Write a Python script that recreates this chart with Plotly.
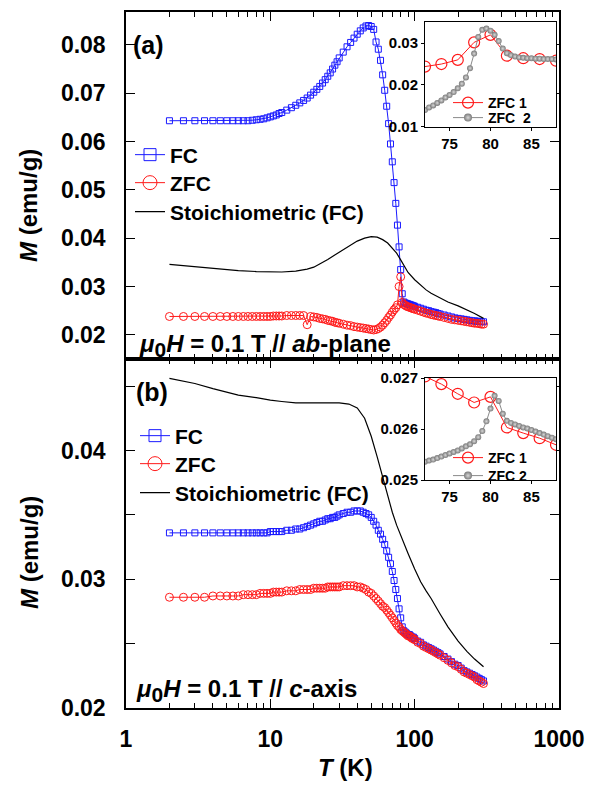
import plotly.graph_objects as go

# ---------------- data ----------------
T_main = [2, 2.5, 3, 3.5, 4, 4.5, 5, 5.5, 6, 6.5, 7, 7.5, 8, 8.5, 9, 9.5, 10, 10.5, 11, 11.5, 12,
          13, 14, 15, 16, 17, 18, 19, 20, 21, 22, 23, 24, 25, 26, 27, 28, 29, 30,
          32, 34, 36, 38, 40, 42, 44, 46, 48, 50, 52, 54, 56, 58, 60, 62, 64, 66, 68, 70,
          72, 74, 76, 78, 80, 82, 84, 86, 88, 90, 92, 94, 96, 98, 100,
          105, 110, 115, 120, 125, 130, 135, 140, 145, 150,
          160, 170, 180, 190, 200, 210, 220, 230, 240, 250, 260, 270, 280, 290, 300]

FC_a = [0.0643, 0.0643, 0.0643, 0.0643, 0.0643, 0.0643, 0.0643, 0.0643, 0.0643, 0.0643, 0.0643,
        0.0644, 0.0645, 0.0646, 0.0647, 0.0649, 0.0651, 0.0653, 0.0655, 0.0658, 0.0660,
        0.0665, 0.0670, 0.0675, 0.0680, 0.0685, 0.0690, 0.0696, 0.0702, 0.0708, 0.0714, 0.0721, 0.0728,
        0.0735, 0.0742, 0.0750, 0.0758, 0.0765, 0.0773,
        0.0785, 0.0796, 0.0805, 0.0814, 0.0822, 0.0829, 0.0835, 0.0839, 0.0840, 0.0838, 0.0832, 0.0806,
        0.0791, 0.0768, 0.0738, 0.0706, 0.0673, 0.0637, 0.0595, 0.0558, 0.0515, 0.0472, 0.0427, 0.0382,
        0.0335, 0.0285, 0.0268, 0.0266, 0.0265, 0.0264, 0.0263, 0.0262, 0.0261, 0.0260, 0.0259,
        0.0257, 0.0255, 0.0253, 0.0251, 0.0250, 0.0248, 0.0247, 0.0246, 0.0244, 0.0243,
        0.0241, 0.0239, 0.0237, 0.0235, 0.0234, 0.0233, 0.0232, 0.0231, 0.0230, 0.0229, 0.0229, 0.0228,
        0.0228, 0.0227, 0.0227]

ZFC_a = [0.0238, 0.0238, 0.0238, 0.0238, 0.0238, 0.0238, 0.0238, 0.0238, 0.0238, 0.0238, 0.0238,
         0.0238, 0.0238, 0.0238, 0.0238, 0.0238, 0.0238, 0.0239, 0.0239, 0.0239, 0.0239,
         0.0240, 0.0240, 0.0240, 0.0240, 0.0240, 0.0221, 0.0238, 0.0237, 0.0236, 0.0234, 0.0233, 0.0232,
         0.0230, 0.0229, 0.0228, 0.0226, 0.0225, 0.0224,
         0.0222, 0.0220, 0.0219, 0.0217, 0.0216, 0.0215, 0.0214, 0.0213, 0.0212, 0.0211, 0.0210, 0.0211,
         0.0213, 0.0216, 0.0220, 0.0225, 0.0230, 0.0236, 0.0241, 0.0247, 0.0252, 0.0256, 0.0262, 0.0300,
         0.0320, 0.0267, 0.0263, 0.0261, 0.0259, 0.0258, 0.0257, 0.0256, 0.0255, 0.0254, 0.0253,
         0.0251, 0.0249, 0.0247, 0.0245, 0.0244, 0.0242, 0.0241, 0.0240, 0.0239, 0.0238,
         0.0236, 0.0234, 0.0232, 0.0231, 0.0230, 0.0229, 0.0228, 0.0227, 0.0226, 0.0225, 0.0224, 0.0224,
         0.0223, 0.0222, 0.0222]

FC_b = [0.0336, 0.0336, 0.0336, 0.0336, 0.0336, 0.0336, 0.0336, 0.0336, 0.0336, 0.0336, 0.0336,
        0.0336, 0.0336, 0.0336, 0.0336, 0.0336, 0.0337, 0.0337, 0.0337, 0.0337, 0.0337,
        0.0338, 0.0338, 0.0339, 0.0339, 0.0340, 0.0341, 0.0342, 0.0343, 0.0344, 0.0345, 0.0345, 0.0346,
        0.0347, 0.0347, 0.0348, 0.0348, 0.0349, 0.0350,
        0.0351, 0.0352, 0.0352, 0.0353, 0.0353, 0.0353, 0.0352, 0.0351, 0.0350, 0.0348, 0.0345, 0.0342,
        0.0338, 0.0335, 0.0331, 0.0327, 0.0322, 0.0317, 0.0312, 0.0306, 0.0299, 0.0292, 0.0285, 0.0277,
        0.0270, 0.0263, 0.0260, 0.0259, 0.0258, 0.0257, 0.0257, 0.0256, 0.0255, 0.0255, 0.0254,
        0.0252, 0.0251, 0.0249, 0.0248, 0.0247, 0.0246, 0.0245, 0.0244, 0.0243, 0.0242,
        0.0240, 0.0238, 0.0236, 0.0234, 0.0233, 0.0231, 0.0229, 0.0228, 0.0227, 0.0226, 0.0225, 0.0224,
        0.0223, 0.0222, 0.0221]

ZFC_b = [0.0286, 0.0286, 0.0286, 0.0286, 0.0287, 0.0287, 0.0287, 0.0287, 0.0287, 0.0288, 0.0288,
         0.0288, 0.0288, 0.0289, 0.0289, 0.0289, 0.0289, 0.0290, 0.0290, 0.0290, 0.0290,
         0.0291, 0.0291, 0.0291, 0.0292, 0.0292, 0.0292, 0.0292, 0.0293, 0.0293, 0.0293, 0.0293, 0.0293,
         0.0294, 0.0294, 0.0294, 0.0294, 0.0294, 0.0294,
         0.0295, 0.0295, 0.0295, 0.0295, 0.0294, 0.0294, 0.0293, 0.0292, 0.0290, 0.0289, 0.0287, 0.0285,
         0.0283, 0.0281, 0.0279, 0.0278, 0.0276, 0.0274, 0.0272, 0.0270, 0.0268, 0.0266, 0.0264, 0.0263,
         0.0261, 0.0260, 0.0259, 0.0258, 0.0257, 0.0256, 0.0256, 0.0255, 0.0254, 0.0254, 0.0253,
         0.0251, 0.0250, 0.0248, 0.0247, 0.0246, 0.0245, 0.0244, 0.0243, 0.0242, 0.0241,
         0.0239, 0.0237, 0.0235, 0.0233, 0.0232, 0.0230, 0.0228, 0.0227, 0.0226, 0.0225, 0.0224, 0.0222,
         0.0221, 0.0220, 0.0219]

T_stoich = [2, 3, 4, 5, 6, 8, 10, 12, 15, 18, 20, 25, 30, 35, 40, 45, 50, 55, 60, 65, 70, 75, 80, 85,
            90, 100, 110, 120, 130, 150, 170, 200, 230, 260, 300]
Stoich_a = [0.0346, 0.0341, 0.0338, 0.0335, 0.0333, 0.0331, 0.0330, 0.0330, 0.0332, 0.0336, 0.0340,
            0.0356, 0.0371, 0.0383, 0.0394, 0.0400, 0.0403, 0.0402, 0.0397, 0.0390, 0.0380, 0.0369,
            0.0355, 0.0341, 0.0329, 0.0314, 0.0302, 0.0293, 0.0286, 0.0276, 0.0268, 0.0260, 0.0252,
            0.0244, 0.0234]
Stoich_b = [0.0456, 0.0452, 0.0448, 0.0445, 0.0443, 0.0441, 0.0439, 0.0438, 0.0437, 0.0437, 0.0437,
            0.0437, 0.0437, 0.0436, 0.0433, 0.0425, 0.0411, 0.0395, 0.0379, 0.0365, 0.0352, 0.0342,
            0.0334, 0.0327, 0.0320, 0.0308, 0.0298, 0.0291, 0.0285, 0.0273, 0.0263, 0.0252, 0.0244,
            0.0238, 0.0232]

# inset data
T_zfc1 = [72, 74, 76, 78, 80, 82, 84, 86, 88]
Ma_zfc1 = [0.0244, 0.0250, 0.0260, 0.0302, 0.0320, 0.0270, 0.0264, 0.0262, 0.0258]
Mb_zfc1 = [0.02703, 0.02688, 0.02669, 0.02652, 0.02663, 0.02603, 0.02592, 0.02582, 0.02569]

T_zfc2 = [72, 72.5, 73, 73.5, 74, 74.5, 75, 75.5, 76, 76.5, 77, 77.5, 78, 78.5, 79, 79.5, 80, 80.5,
          81, 81.5, 82, 82.5, 83, 83.5, 84, 84.5, 85, 85.5, 86, 86.5, 87, 87.5, 88]
Ma_zfc2 = [0.0140, 0.0146, 0.0151, 0.0157, 0.0163, 0.0170, 0.0176, 0.0183, 0.0192, 0.0203, 0.0218,
           0.0240, 0.0275, 0.0315, 0.0332, 0.0335, 0.0330, 0.0320, 0.0305, 0.0287, 0.0276, 0.0271,
           0.0268, 0.0266, 0.0265, 0.0264, 0.0264, 0.0263, 0.0263, 0.0262, 0.0262, 0.0262, 0.0261]
Mb_zfc2 = [0.02536, 0.02538, 0.02540, 0.02543, 0.02546, 0.02549, 0.02552, 0.02555, 0.02558, 0.02562,
           0.02566, 0.02570, 0.02576, 0.02584, 0.02596, 0.02615, 0.02640, 0.02665, 0.02655, 0.02630,
           0.02616, 0.02612, 0.02609, 0.02606, 0.02603, 0.02601, 0.02598, 0.02595, 0.02592, 0.02589,
           0.02586, 0.02583, 0.02580]

main_xticks = [1, 10, 100, 1000]
main_xlabels = ["1", "10", "100", "1000"]
ya_ticks = [0.02, 0.03, 0.04, 0.05, 0.06, 0.07, 0.08]
ya_labels = ["0.02", "0.03", "0.04", "0.05", "0.06", "0.07", "0.08"]
yb_ticks = [0.02, 0.03, 0.04]
yb_labels = ["0.02", "0.03", "0.04"]
inset_xticks = [75, 80, 85]
inset_a_yticks = [0.01, 0.02, 0.03]
inset_a_ylabels = ["0.01", "0.02", "0.03"]
inset_b_yticks = [0.025, 0.026, 0.027]
inset_b_ylabels = ["0.025", "0.026", "0.027"]

# ---------------- styling ----------------
W, H = 596, 785
FONT = "Liberation Sans"
BLUE = "#1a1aff"
RED = "#ff1a1a"
GRAY = "#8a8a8a"


def px(x):
    return x / W


def py(y):
    return 1 - y / H


fig = go.Figure()

FC_MARK = dict(symbol="square-open", color=BLUE, line=dict(width=1, color=BLUE))
ZFC_MARK = dict(symbol="circle-open", color=RED, line=dict(width=1, color=RED))
Z1_MARK = dict(symbol="circle-open", color=RED, line=dict(width=1.2, color=RED))
Z2_MARK = dict(symbol="circle", color="#7a7a7a", gradient=dict(type="radial", color="#d8d8d8"),
               line=dict(width=0))

legend_defs = {}


def legend_entry(leg, name, xa, ya, mode, line, marker, xpix, ypix, size):
    """Legend-only item (no data) placed in its own legend box."""
    fig.add_trace(go.Scatter(x=[None], y=[None], mode=mode, name=name, legend=leg,
                             xaxis=xa, yaxis=ya, line=line, marker=marker, showlegend=True,
                             hoverinfo="skip"))
    legend_defs[leg] = dict(x=px(xpix), y=py(ypix), xanchor="left", yanchor="middle",
                            bgcolor="rgba(0,0,0,0)", borderwidth=0, itemsizing="trace",
                            font=dict(family=FONT, size=size, color="black", weight="bold"))


def add_panel(xa, ya, fc, zfc, st):
    fig.add_trace(go.Scatter(x=T_main, y=fc, mode="lines+markers", showlegend=False,
                             xaxis=xa, yaxis=ya, line=dict(color=BLUE, width=1),
                             marker=dict(FC_MARK, size=6)))
    fig.add_trace(go.Scatter(x=T_main, y=zfc, mode="lines+markers", showlegend=False,
                             xaxis=xa, yaxis=ya, line=dict(color=RED, width=1),
                             marker=dict(ZFC_MARK, size=8)))
    fig.add_trace(go.Scatter(x=T_stoich, y=st, mode="lines", showlegend=False,
                             xaxis=xa, yaxis=ya, line=dict(color="black", width=1.2)))


def add_inset(xa, ya, m1, m2):
    fig.add_trace(go.Scatter(x=T_zfc1, y=m1, mode="lines+markers", showlegend=False,
                             xaxis=xa, yaxis=ya, line=dict(color=RED, width=1),
                             marker=dict(Z1_MARK, size=11)))
    fig.add_trace(go.Scatter(x=T_zfc2, y=m2, mode="lines+markers", showlegend=False,
                             xaxis=xa, yaxis=ya, line=dict(color=GRAY, width=1),
                             marker=dict(Z2_MARK, size=6)))


add_panel("x", "y", FC_a, ZFC_a, Stoich_a)
add_panel("x2", "y2", FC_b, ZFC_b, Stoich_b)
add_inset("x3", "y3", Ma_zfc1, Ma_zfc2)
add_inset("x4", "y4", Mb_zfc1, Mb_zfc2)

# legends (one box per entry so that the row spacing matches)
LA = 130
legend_entry("legend", "FC", "x", "y", "lines+markers", dict(color=BLUE, width=1),
             dict(FC_MARK, size=12), LA, 155, 21)
legend_entry("legend2", "ZFC", "x", "y", "lines+markers", dict(color=RED, width=1),
             dict(ZFC_MARK, size=14), LA, 183, 21)
legend_entry("legend3", "Stoichiometric (FC)", "x", "y", "lines", dict(color="black", width=1.2),
             None, LA, 212, 21)
LB = 135
legend_entry("legend4", "FC", "x2", "y2", "lines+markers", dict(color=BLUE, width=1),
             dict(FC_MARK, size=12), LB, 436, 21)
legend_entry("legend5", "ZFC", "x2", "y2", "lines+markers", dict(color=RED, width=1),
             dict(ZFC_MARK, size=14), LB, 464, 21)
legend_entry("legend6", "Stoichiometric (FC)", "x2", "y2", "lines", dict(color="black", width=1.2),
             None, LB, 493, 21)
LI = 448
legend_entry("legend7", "ZFC 1", "x3", "y3", "lines+markers", dict(color=RED, width=1),
             dict(Z1_MARK, size=11), LI, 103, 14)
legend_entry("legend8", "ZFC\u00a0\u00a02", "x3", "y3", "lines+markers", dict(color=GRAY, width=1),
             dict(Z2_MARK, size=8), LI, 118, 14)
legend_entry("legend9", "ZFC 1", "x4", "y4", "lines+markers", dict(color=RED, width=1),
             dict(Z1_MARK, size=11), LI, 458, 14)
legend_entry("legend10", "ZFC 2", "x4", "y4", "lines+markers", dict(color=GRAY, width=1),
             dict(Z2_MARK, size=8), LI, 476, 14)

XDOM = [px(126), px(559)]
tickfont = dict(family=FONT, size=23, color="black", weight="bold")
minor_x = [2, 3, 4, 5, 6, 7, 8, 9, 20, 30, 40, 50, 60, 70, 80, 90, 200, 300, 400, 500, 600, 700, 800, 900]

common_x = dict(type="log", range=[0, 3], showgrid=False, zeroline=False, showline=True,
                linecolor="black", linewidth=1.5, mirror="allticks", ticks="inside", ticklen=9,
                tickwidth=1.2, tickcolor="black", tickvals=main_xticks, ticktext=main_xlabels,
                minor=dict(tickvals=minor_x, ticks="inside", ticklen=5, tickwidth=1.2,
                           tickcolor="black", showgrid=False),
                tickfont=tickfont, automargin=False)
common_y = dict(showgrid=False, zeroline=False, showline=True, linecolor="black", linewidth=1.5,
                mirror="allticks", ticks="inside", ticklen=9, tickwidth=1.2, tickcolor="black",
                tickfont=tickfont, ticklabelstandoff=14, automargin=False)

inset_font = dict(family=FONT, size=15, color="black", weight="bold")
inset_x = dict(range=[72, 88], showgrid=False, zeroline=False, showline=True, linecolor="black",
               linewidth=1, mirror=True, ticks="outside", ticklen=3, tickcolor="black",
               tickvals=inset_xticks, tickfont=inset_font, automargin=False)
inset_y = dict(showgrid=False, zeroline=False, showline=True, linecolor="black",
               linewidth=1, mirror=True, ticks="outside", ticklen=3, tickcolor="black",
               tickfont=inset_font, ticklabelstandoff=0, automargin=False)

fig.update_layout(
    template="none",
    width=W, height=H, margin=dict(l=0, r=0, t=0, b=0, autoexpand=False),
    paper_bgcolor="white", plot_bgcolor="white",
    xaxis=dict(common_x, domain=XDOM, anchor="y", showticklabels=False),
    yaxis=dict(common_y, domain=[py(359), py(12)], anchor="x", range=[0.0150, 0.0868],
               tickvals=ya_ticks, ticktext=ya_labels),
    xaxis2=dict(common_x, domain=XDOM, anchor="y2", showticklabels=True, ticklabelstandoff=10),
    yaxis2=dict(common_y, domain=[py(708), py(359)], anchor="x2", range=[0.02, 0.0471],
                tickvals=yb_ticks, ticktext=yb_labels,
                minor=dict(tickvals=[0.025, 0.035, 0.045], ticks="inside", ticklen=9,
                           tickwidth=1.2, tickcolor="black", showgrid=False)),
    xaxis3=dict(inset_x, domain=[px(425), px(556)], anchor="y3"),
    yaxis3=dict(inset_y, domain=[py(126.7), py(22.3)], anchor="x3", range=[0.01, 0.035],
                tickvals=inset_a_yticks, ticktext=inset_a_ylabels),
    xaxis4=dict(inset_x, domain=[px(425), px(556)], anchor="y4"),
    yaxis4=dict(inset_y, domain=[py(480), py(378)], anchor="x4", range=[0.025, 0.027],
                tickvals=inset_b_yticks, ticktext=inset_b_ylabels),
    **legend_defs,
)

ann_font = dict(family=FONT, size=23, color="black", weight="bold")
SUB0 = '<sub><span style="font-size:21px">0</span></sub>'
annotations = [
    dict(text="(a)", x=px(131), y=py(45), xanchor="left", yanchor="middle", font=dict(ann_font, size=25)),
    dict(text="(b)", x=px(134), y=py(392), xanchor="left", yanchor="middle", font=dict(ann_font, size=25)),
    dict(text="<i>μ</i>" + SUB0 + "<i>H</i> = 0.1 T // <i>ab</i>-plane", x=px(137), y=py(345),
         xanchor="left", yanchor="middle", font=dict(ann_font, size=24)),
    dict(text="<i>μ</i>" + SUB0 + "<i>H</i> = 0.1 T // <i>c</i>-axis", x=px(134), y=py(690),
         xanchor="left", yanchor="middle", font=dict(ann_font, size=24)),
    dict(text="<i>M</i> (emu/g)", x=px(29), y=py(206), xanchor="center", yanchor="middle",
         textangle=-90, font=dict(ann_font, size=24)),
    dict(text="<i>M</i> (emu/g)", x=px(29), y=py(553), xanchor="center", yanchor="middle",
         textangle=-90, font=dict(ann_font, size=24)),
    dict(text="<i>T</i> (K)", x=px(345), y=py(767), xanchor="center", yanchor="middle",
         font=dict(ann_font, size=24)),
]
for a in annotations:
    a.update(xref="paper", yref="paper", showarrow=False)
fig.update_layout(annotations=annotations)

fig.write_html("out.html")
